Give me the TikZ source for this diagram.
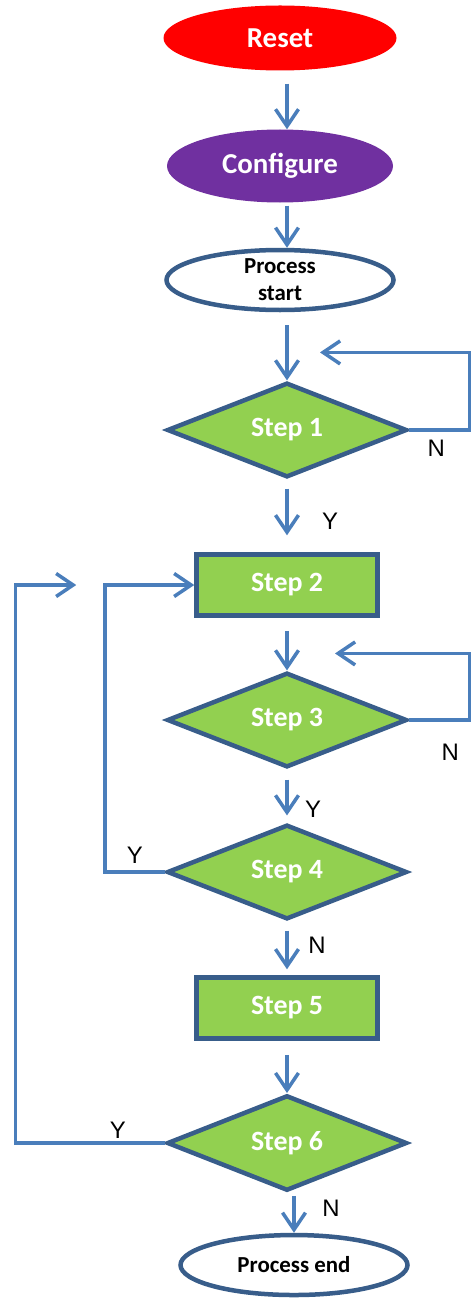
\documentclass[tikz,border=0pt]{standalone}
\usepackage{fontspec}
\setmainfont{Carlito}
\newfontfamily\labelfont{Liberation Sans}
\usetikzlibrary{shapes,arrows.meta,positioning,calc}
\definecolor{resetred}{RGB}{255,0,0}
\definecolor{configpurple}{RGB}{112,48,160}
\definecolor{stepgreen}{RGB}{146,208,80}
\definecolor{borderblue}{RGB}{56,93,138}
\definecolor{flowblue}{RGB}{74,126,187}
\tikzset{
    terminal/.style={ellipse, draw=none, text=white, font=\fontsize{29}{34}\selectfont\bfseries, minimum width=233bp, minimum height=65bp, inner sep=0pt},
    endpoint/.style={ellipse, draw=borderblue, line width=4.5bp, fill=white, font=\fontsize{23}{27}\selectfont\bfseries, align=center, minimum width=227bp, minimum height=60bp, inner sep=0pt},
    decision/.style={diamond, draw=borderblue, line width=4.5bp, fill=stepgreen, text=white, font=\fontsize{28}{33}\selectfont\bfseries, minimum width=240bp, minimum height=90bp, inner sep=0pt},
    block/.style={rectangle, draw=borderblue, line width=4.5bp, fill=stepgreen, text=white, font=\fontsize{28}{33}\selectfont\bfseries, minimum width=181bp, minimum height=61bp},
    line/.style={draw=flowblue, line width=3.5bp, -{Straight Barb[length=17bp,width=23bp]}},
    answer/.style={font=\labelfont\fontsize{24}{28}\selectfont, inner sep=0pt}
}
\begin{document}
\begin{tikzpicture}[x=1bp,y=-1bp,on grid]
    \useasboundingbox (0,0) rectangle (473,1303);
    % Start of the flow
    \node [terminal, fill=resetred] (reset) at (280,38) {Reset};
    \node [terminal, fill=configpurple, minimum width=226bp, minimum height=73bp, below=128bp of reset] (config) {Configure};
    \node [endpoint, below=114bp of config] (start) {Process\\start};

    % Steps
    \node [decision, below=150bp of start, xshift=7bp] (step1) {Step 1};
    \node [block, below=155bp of step1] (step2) {Step 2};
    \node [decision, below=135bp of step2] (step3) {Step 3};
    \node [decision, below=152bp of step3] (step4) {Step 4};
    \node [block, below=136bp of step4] (step5) {Step 5};
    \node [decision, below=135bp of step5] (step6) {Step 6};
    \node [endpoint, below=122bp of step6, xshift=7bp] (end) {Process end};

    % Free ends of the loops
    \coordinate [above right=28bp and 33bp of step1.north] (back1);
    \coordinate [above right=17bp and 48bp of step3.north] (back3);
    \coordinate [left=118bp of step2.west] (back6);

    % Main arrows
    \draw [line, shorten <=13bp] (reset.south -| step1.north) -- (config.north -| step1.north);
    \draw [line, shorten <=3bp] (config.south -| step1.north) -- (start.north -| step1.north);
    \draw [line, shorten <=13bp] (start.south -| step1.north) -- (step1.north);
    \draw [line, shorten <=9bp, shorten >=17bp] (step1.south) -- (step2.north);
    \draw [line, shorten <=13bp] (step2.south) -- (step3.north);
    \draw [line, shorten <=10bp, shorten >=7bp] (step3.south) -- (step4.north);
    \draw [line, shorten <=9bp, shorten >=6bp] (step4.south) -- (step5.north);
    \draw [line, shorten <=14bp] (step5.south) -- (step6.north);
    \draw [line, shorten <=3bp] (step6.south -| end.north) -- (end.north);

    % Loops
    \draw [line] (step1.east) -- ++(60,0) |- (back1);
    \draw [line] (step3.east) -- ++(60,0) |- (back3);
    \draw [line] (step4.west) -- ++(-60,0) |- (step2.west);
    \draw [line] (step6.west) -- ++(-149,0) |- (back6);

    % Answers
    \node [answer, xshift=27bp, yshift=-18bp] (no1) at (step1.east) {N};
    \node [answer, xshift=43bp, yshift=-42bp] (yes1) at (step1.south) {Y};
    \node [answer, xshift=41bp, yshift=-32bp] (no3) at (step3.east) {N};
    \node [answer, xshift=26bp, yshift=13bp] (yes3) at (step4.north) {Y};
    \node [answer, xshift=-30bp, yshift=17bp] (yes4) at (step4.west) {Y};
    \node [answer, xshift=30bp, yshift=-24bp] (no4) at (step4.south) {N};
    \node [answer, xshift=-47bp, yshift=13bp] (yes6) at (step6.west) {Y};
    \node [answer, xshift=44bp, yshift=-15bp] (no6) at (step6.south) {N};
\end{tikzpicture}
\end{document}
